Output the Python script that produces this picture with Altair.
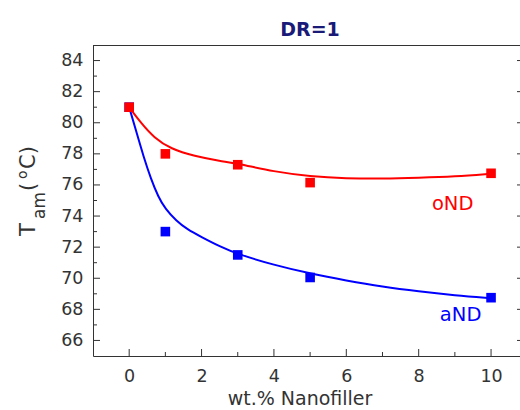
import altair as alt
import pandas as pd

# Measured transition temperatures (markers)
loadings = [0, 1, 3, 5, 10]
tam_ond = [81.0, 78.0, 77.3, 76.15, 76.75]
tam_and = [81.0, 73.0, 71.5, 70.05, 68.75]

# Guide curves through the measurements
ond_curve_x = [0, 0.32, 0.69, 1.15, 1.8, 2.53, 3.0, 4.0, 5.0, 6.0, 7.0, 8.0, 9.0, 10.0]
ond_curve_y = [81.0, 80.0, 79.03, 78.32, 77.85, 77.53, 77.38, 76.85, 76.55, 76.42, 76.4, 76.46, 76.54, 76.72]
and_curve_x = [0, 0.2, 0.4, 0.6, 0.8, 1.0, 1.3, 1.6, 2.0, 2.5, 3.0, 4.0, 5.0, 6.0, 7.0, 8.0, 9.0, 10.0]
and_curve_y = [81.0, 79.4, 77.8, 76.4, 75.25, 74.45, 73.7, 73.15, 72.65, 72.05, 71.55, 70.85, 70.3, 69.85, 69.45, 69.15, 68.9, 68.72]

series_names = ["oND", "aND"]
series_colors = ["#ff0000", "#0000ff"]

# Axis tick positions
x_major_ticks = [0, 2, 4, 6, 8, 10]
x_minor_ticks = [1, 3, 5, 7, 9]
y_major_ticks = [66, 68, 70, 72, 74, 76, 78, 80, 82, 84]
y_minor_ticks = [67, 69, 71, 73, 75, 77, 79, 81, 83]

# Series label anchors (data units)
label_x = [8.94, 9.16]
label_y = [74.38, 67.23]

W, H = 427, 311
FONT = "DejaVu Sans"
INK = "#333333"

markers = pd.DataFrame({
    "x": loadings * 2,
    "y": tam_ond + tam_and,
    "series": ["oND"] * len(loadings) + ["aND"] * len(loadings),
})
curves = pd.DataFrame({
    "x": ond_curve_x + and_curve_x,
    "y": ond_curve_y + and_curve_y,
    "series": ["oND"] * len(ond_curve_x) + ["aND"] * len(and_curve_x),
})
labels = pd.DataFrame({"x": label_x, "y": label_y, "series": series_names})

xs = alt.Scale(domain=[-1, 10.8], nice=False, zero=False)
ys = alt.Scale(domain=[65, 85], nice=False, zero=False)
x_axis = alt.Axis(values=x_major_ticks, format="d", title=None, ticks=False, tickSize=0,
                  labelPadding=11, grid=False, domainColor=INK, labelColor=INK,
                  labelFont=FONT, labelFontSize=17.5)
y_axis = alt.Axis(values=y_major_ticks, format="d", title=None, ticks=False, tickSize=0,
                  labelPadding=10, grid=False, domainColor=INK, labelColor=INK,
                  labelFont=FONT, labelFontSize=17.5)
X = alt.X("x:Q", scale=xs, axis=x_axis)
Y = alt.Y("y:Q", scale=ys, axis=y_axis)
color = alt.Color("series:N", scale=alt.Scale(domain=series_names, range=series_colors), legend=None)

lines = alt.Chart(curves).mark_line(strokeWidth=2, interpolate="basis").encode(
    x=X, y=Y, color=color, detail="series:N")

points = alt.Chart(markers).mark_square(size=92, opacity=1).encode(
    x=X, y=Y, color=color,
    order=alt.Order("series:N", sort="ascending"))

series_text = alt.Chart(labels).mark_text(
    font=FONT, fontSize=19.5, align="center", baseline="alphabetic").encode(
    x=X, y=Y, text="series:N", color=color)

# Inward ticks
tx_major = pd.DataFrame({"x": x_major_ticks})
tx_minor = pd.DataFrame({"x": x_minor_ticks})
ty_major = pd.DataFrame({"y": y_major_ticks})
ty_minor = pd.DataFrame({"y": y_minor_ticks})

bx_major = alt.Chart(tx_major).mark_rule(color=INK, strokeWidth=1).encode(
    x=X, y=alt.value(H), y2=alt.value(H - 7))
bx_minor = alt.Chart(tx_minor).mark_rule(color=INK, strokeWidth=1).encode(
    x=X, y=alt.value(H), y2=alt.value(H - 4))
ly_major = alt.Chart(ty_major).mark_rule(color=INK, strokeWidth=1).encode(
    y=Y, x=alt.value(0), x2=alt.value(7))
ly_minor = alt.Chart(ty_minor).mark_rule(color=INK, strokeWidth=1).encode(
    y=Y, x=alt.value(0), x2=alt.value(4))
ry_major = alt.Chart(ty_major).mark_rule(color=INK, strokeWidth=1).encode(
    y=Y, x=alt.value(W - 3), x2=alt.value(W))

one = pd.DataFrame({"k": [0]})
top_frame = alt.Chart(one).mark_rule(color=INK, strokeWidth=1).encode(
    x=alt.value(0), x2=alt.value(W), y=alt.value(0.5))


def txt(s, x, y, size, angle=0, align="left", weight="normal", col=INK):
    return alt.Chart(one).mark_text(
        text=s, font=FONT, fontSize=size, angle=angle, align=align,
        baseline="alphabetic", fontWeight=weight, color=col,
    ).encode(x=alt.value(x), y=alt.value(y))


title = txt("DR=1", 217, -9, 19, align="center", weight="bold", col="#1a1a78")
x_title = txt("wt.% Nanofiller", 207, 360, 19, align="center")
# T_am (°C) built from pieces, rotated to read bottom to top
y_t = txt("T", -58, 191, 21, angle=270)
y_am = txt("am", -48, 174, 17, angle=270)
y_open = txt("(", -58, 146, 21, angle=270)
y_deg = txt("o", -66, 134, 14, angle=270)
y_close = txt("C)", -58, 124, 21, angle=270)

chart = alt.layer(
    top_frame, bx_major, bx_minor, ly_major, ly_minor, ry_major,
    lines, points, series_text,
    title, x_title, y_t, y_am, y_open, y_deg, y_close,
).properties(
    width=W, height=H,
    autosize=alt.AutoSizeParams(type="none"),
    padding={"left": 93, "top": 45, "right": 0, "bottom": 54},
    background="white",
).configure_view(stroke=None)

chart.save("out.html", embed_options={"renderer": "svg", "actions": False})
